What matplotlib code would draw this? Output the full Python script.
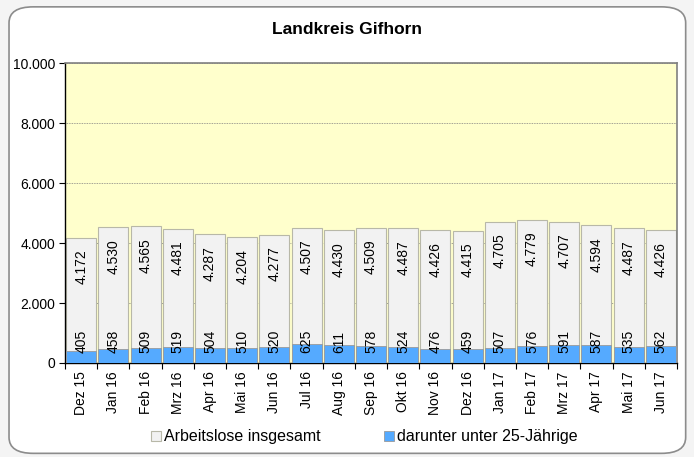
import matplotlib.pyplot as plt
import matplotlib.patches as patches
from matplotlib.ticker import FuncFormatter, FixedLocator

plt.rcParams['font.family'] = ['Liberation Sans', 'DejaVu Sans']

months = ["Dez 15", "Jan 16", "Feb 16", "Mrz 16", "Apr 16", "Mai 16", "Jun 16",
          "Jul 16", "Aug 16", "Sep 16", "Okt 16", "Nov 16", "Dez 16", "Jan 17",
          "Feb 17", "Mrz 17", "Apr 17", "Mai 17", "Jun 17"]
insgesamt = [4172, 4530, 4565, 4481, 4287, 4204, 4277, 4507, 4430, 4509,
             4487, 4426, 4415, 4705, 4779, 4707, 4594, 4487, 4426]
unter25 = [405, 458, 509, 519, 504, 510, 520, 625, 611, 578,
           524, 476, 459, 507, 576, 591, 587, 535, 562]


def de_fmt(v):
    return f"{int(v):,}".replace(",", ".")


fig = plt.figure(figsize=(6.94, 4.57), dpi=100, facecolor='#f4f4f4')
# rounded outer frame, behind the axes
frame = patches.FancyBboxPatch((0.013, 0.008), 0.975, 0.977,
                               boxstyle="round,pad=0,rounding_size=0.035",
                               transform=fig.transFigure, facecolor='white',
                               edgecolor='#8c8c8c', linewidth=1.2, zorder=-10)
fig.patches.append(frame)

ax = fig.add_axes([0.0937, 0.2057, 0.8818, 0.6563])
ax.set_facecolor('#ffffcc')

x = list(range(len(months)))
ax.bar(x, insgesamt, width=0.93, color='#f2f2f2', edgecolor='#b8b8a8',
       linewidth=0.8, zorder=2, label='Arbeitslose insgesamt')
ax.bar(x, unter25, width=0.93, color='#55aaff', edgecolor='#9a9a9a',
       linewidth=0.6, zorder=3, label='darunter unter 25-Jährige')

for xi, v in zip(x, insgesamt):
    ax.annotate(de_fmt(v), (xi, v), xytext=(0, -8.5), textcoords='offset points',
                rotation=90, ha='center', va='top', fontsize=10, zorder=5)
for xi, v in zip(x, unter25):
    ax.annotate(de_fmt(v), (xi, 0), xytext=(0, 7.5), textcoords='offset points',
                rotation=90, ha='center', va='bottom', fontsize=10, zorder=5)

ax.set_xlim(-0.5, len(months) - 0.5)
ax.set_ylim(0, 10000)
ax.set_yticks([0, 2000, 4000, 6000, 8000, 10000])
ax.yaxis.set_major_formatter(FuncFormatter(lambda v, p: de_fmt(v)))
ax.yaxis.grid(True, linestyle=(0, (1, 1)), color='#808080', linewidth=0.6, zorder=1)
ax.set_axisbelow(True)

ax.set_xticks(x)
ax.set_xticklabels(months, rotation=90, fontsize=10)
ax.tick_params(axis='x', which='major', length=0, pad=6)
ax.xaxis.set_minor_locator(FixedLocator([i - 0.5 for i in range(len(months) + 1)]))
ax.tick_params(axis='x', which='minor', length=4, width=0.8, direction='out')
ax.tick_params(axis='y', length=4, width=0.8, direction='out', labelsize=10, pad=3)

for s in ['top', 'right']:
    ax.spines[s].set_color('#808080')
    ax.spines[s].set_linewidth(1.2)
for s in ['left', 'bottom']:
    ax.spines[s].set_color('black')
    ax.spines[s].set_linewidth(1.0)

fig.text(0.5, 1 - 29 / 457, 'Landkreis Gifhorn', fontsize=12.5, fontweight='bold',
         ha='center', va='center')

fig.legend(loc='center', bbox_to_anchor=(0.525, 0.044), ncol=2, frameon=False,
           fontsize=11.5, handlelength=0.6, handleheight=0.6, handletextpad=0.2,
           columnspacing=4, borderpad=0)

fig.savefig('out.png', dpi=100, facecolor=fig.get_facecolor())
